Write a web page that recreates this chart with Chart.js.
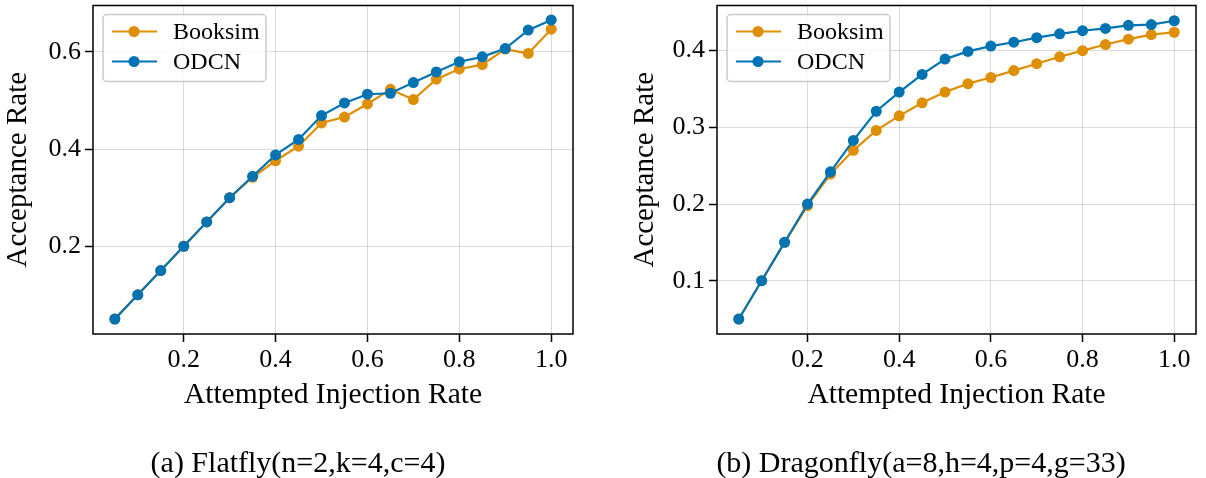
<!DOCTYPE html>
<html>
<head>
<meta charset="utf-8">
<title>Acceptance Rate</title>
<script src="https://cdn.jsdelivr.net/npm/chart.js@4.4.0/dist/chart.umd.min.js"></script>
<style>
  html, body { margin: 0; padding: 0; background: #fff; }
  body { width: 1206px; height: 478px; position: relative; overflow: hidden; font-family: "Liberation Serif", serif; }
  .panel { position: absolute; top: 0; width: 603px; height: 478px; }
  .caption { position: absolute; top: 445px; font-size: 30px; line-height: 34px; white-space: nowrap; transform: translateX(-50%); color: #000; }
</style>
</head>
<body>
<canvas id="flatfly" class="panel" style="left:0" width="603" height="478"></canvas>
<canvas id="dragonfly" class="panel" style="left:603px" width="603" height="478"></canvas>
<div class="caption" style="left:298px">(a) Flatfly(n=2,k=4,c=4)</div>
<div class="caption" style="left:921px">(b) Dragonfly(a=8,h=4,p=4,g=33)</div>

<script>
// ===== Data =====
const injectionRates = [0.05, 0.10, 0.15, 0.20, 0.25, 0.30, 0.35, 0.40, 0.45, 0.50,
                        0.55, 0.60, 0.65, 0.70, 0.75, 0.80, 0.85, 0.90, 0.95, 1.00];

const flatflyBooksim = [0.050, 0.100, 0.150, 0.200, 0.250, 0.300, 0.342, 0.376, 0.406, 0.454,
                        0.466, 0.493, 0.523, 0.502, 0.544, 0.565, 0.574, 0.606, 0.597, 0.647];
const flatflyOdcn    = [0.050, 0.100, 0.150, 0.200, 0.250, 0.300, 0.344, 0.388, 0.420, 0.469,
                        0.495, 0.513, 0.515, 0.537, 0.559, 0.580, 0.590, 0.607, 0.645, 0.666];

const dragonflyBooksim = [0.050, 0.100, 0.150, 0.198, 0.239, 0.270, 0.296, 0.315, 0.332, 0.346,
                          0.357, 0.365, 0.374, 0.383, 0.392, 0.400, 0.408, 0.415, 0.421, 0.424];
const dragonflyOdcn    = [0.050, 0.100, 0.150, 0.200, 0.242, 0.283, 0.321, 0.346, 0.369, 0.389,
                          0.399, 0.406, 0.411, 0.417, 0.422, 0.426, 0.429, 0.433, 0.434, 0.439];

const xTicks = [0.2, 0.4, 0.6, 0.8, 1.0];
const flatflyYTicks = [0.2, 0.4, 0.6];
const dragonflyYTicks = [0.1, 0.2, 0.3, 0.4];

const seriesNames = ["Booksim", "ODCN"];
const ORANGE = "#de8f05";
const BLUE = "#0173b2";

Chart.defaults.font.family = "'Liberation Serif', serif";
Chart.defaults.color = "#000";

// ===== Plugins =====
// black box round the plot area plus an in-plot legend (top left)
const frameAndLegend = {
  id: "frameAndLegend",
  afterDraw(chart) {
    const { ctx, chartArea: a } = chart;
    ctx.save();
    ctx.strokeStyle = "#000";
    ctx.lineWidth = 1.5;
    ctx.strokeRect(a.left, a.top, a.right - a.left, a.bottom - a.top);

    const bx = a.left + 10, by = a.top + 9, bw = 163, bh = 67;
    ctx.beginPath();
    ctx.roundRect(bx, by, bw, bh, 4);
    ctx.fillStyle = "rgba(255,255,255,0.8)";
    ctx.fill();
    ctx.strokeStyle = "#cccccc";
    ctx.lineWidth = 1.5;
    ctx.stroke();

    ctx.font = "24px 'Liberation Serif', serif";
    ctx.textBaseline = "middle";
    ctx.textAlign = "left";
    chart.data.datasets.forEach((ds, i) => {
      const y = by + 17 + i * 30;
      ctx.strokeStyle = ds.borderColor;
      ctx.lineWidth = 2.2;
      ctx.beginPath();
      ctx.moveTo(bx + 9, y);
      ctx.lineTo(bx + 54, y);
      ctx.stroke();
      ctx.fillStyle = ds.borderColor;
      ctx.beginPath();
      ctx.arc(bx + 31, y, 5.5, 0, Math.PI * 2);
      ctx.fill();
      ctx.fillStyle = "#000";
      ctx.fillText(ds.label, bx + 70, y + 1);
    });
    ctx.restore();
  }
};

// ===== Chart builder =====
function makeChart(canvasId, booksim, odcn, yMin, yMax, yTicks, padLeft, padRight, yAxisWidth) {
  const toPoints = vals => injectionRates.map((x, i) => ({ x, y: vals[i] }));
  const line = (label, vals, color, order) => ({
    label,
    data: toPoints(vals),
    borderColor: color,
    backgroundColor: color,
    pointBackgroundColor: color,
    pointBorderColor: color,
    borderWidth: 2.2,
    pointRadius: 5.5,
    pointBorderWidth: 0,
    order
  });

  return new Chart(document.getElementById(canvasId), {
    type: "line",
    data: {
      datasets: [
        line(seriesNames[0], booksim, ORANGE, 1),
        line(seriesNames[1], odcn, BLUE, 0)
      ]
    },
    options: {
      responsive: false,
      animation: false,
      layout: { padding: { left: padLeft, right: padRight, top: 3, bottom: 64 } },
      plugins: { legend: { display: false }, tooltip: { enabled: false } },
      scales: {
        x: {
          type: "linear",
          min: 0.0025,
          max: 1.0475,
          afterBuildTicks: s => { s.ticks = xTicks.map(v => ({ value: v })); },
          afterFit: s => { s.height = 80; s.paddingLeft = 0; s.paddingRight = 0; },
          ticks: { font: { size: 26 }, padding: 3, callback: v => v.toFixed(1), maxRotation: 0 },
          grid: { color: "rgba(0,0,0,0.14)", lineWidth: 1, tickColor: "#000", tickLength: 8, tickWidth: 1.5 },
          border: { display: false },
          title: { display: true, text: "Attempted Injection Rate", font: { size: 29.5 }, padding: { top: 0, bottom: 1 } }
        },
        y: {
          type: "linear",
          min: yMin,
          max: yMax,
          afterBuildTicks: s => { s.ticks = yTicks.map(v => ({ value: v })); },
          afterFit: s => { s.width = yAxisWidth; s.paddingTop = 0; s.paddingBottom = 0; },
          ticks: { font: { size: 26 }, padding: 4, callback: v => v.toFixed(1) },
          grid: { color: "rgba(0,0,0,0.14)", lineWidth: 1, tickColor: "#000", tickLength: 8, tickWidth: 1.5 },
          border: { display: false },
          title: { display: true, text: "Acceptance Rate", font: { size: 29 }, padding: { top: 1, bottom: 0 } }
        }
      }
    },
    plugins: [frameAndLegend]
  });
}

makeChart("flatfly", flatflyBooksim, flatflyOdcn, 0.0193, 0.6957, flatflyYTicks, 0, 30, 93);
makeChart("dragonfly", dragonflyBooksim, dragonflyOdcn, 0.0305, 0.4589, dragonflyYTicks, 24, 10, 90);
</script>
</body>
</html>
